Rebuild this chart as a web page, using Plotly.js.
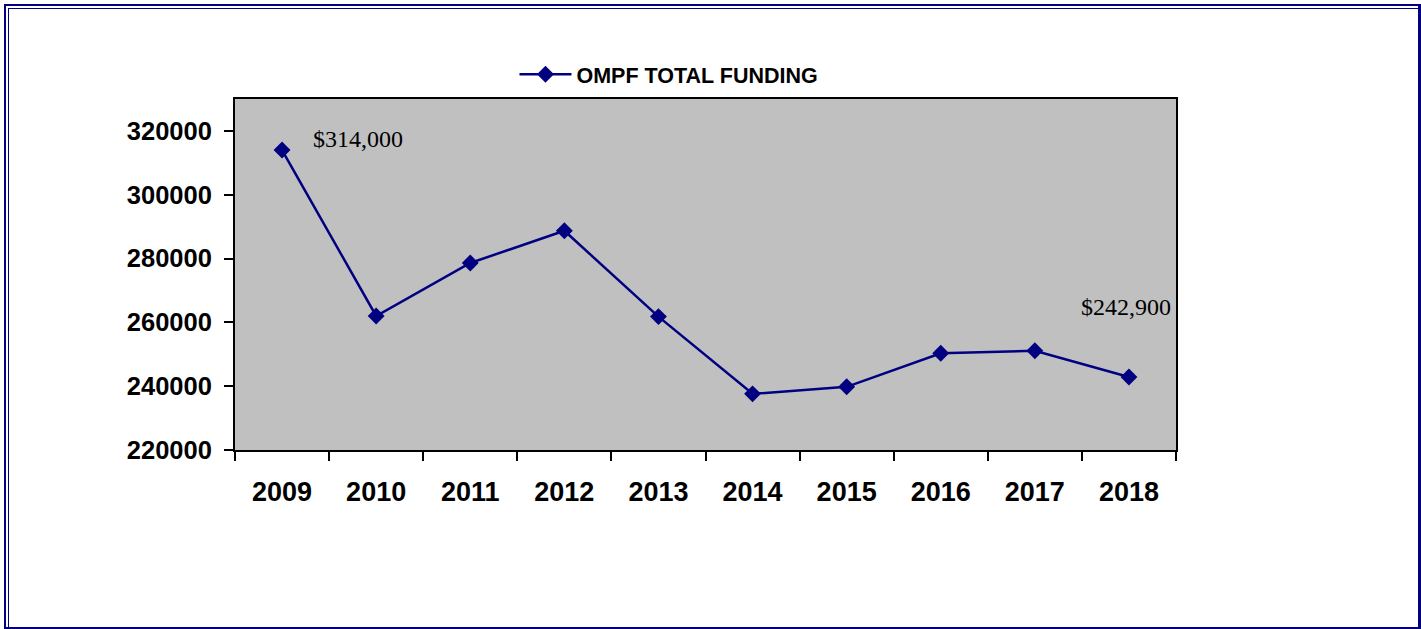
<!DOCTYPE html>
<html>
<head>
<meta charset="utf-8">
<script src="https://cdn.plot.ly/plotly-3.0.1.min.js"></script>
<style>
  html, body { margin: 0; padding: 0; background: #ffffff; }
  #wrap { position: relative; width: 1421px; height: 629px; overflow: hidden; }
  #chart { position: absolute; left: 0; top: 0; width: 1421px; height: 629px; }
  .b { position: absolute; background: #000080; pointer-events: none; }
</style>
</head>
<body>
<div id="wrap">
  <div id="chart"></div>
  <div class="b" style="left:4px;top:4px;width:1417px;height:2px;"></div>
  <div class="b" style="left:4px;top:4px;width:2px;height:625px;"></div>
  <div class="b" style="left:1418px;top:4px;width:3px;height:625px;"></div>
  <div class="b" style="left:4px;top:627px;width:1417px;height:2px;"></div>
  <div class="b" style="left:8px;top:8px;width:1410px;height:1px;"></div>
  <div class="b" style="left:8px;top:8px;width:1px;height:621px;"></div>
</div>
<script>
const years = ['2009','2010','2011','2012','2013','2014','2015','2016','2017','2018'];
const funding = [314000, 262000, 278600, 288700, 261800, 237600, 239800, 250300, 251100, 242900];
const seriesName = 'OMPF TOTAL FUNDING';
const labelIndex = [0, 9];
const labelTexts = ['&#36;314,000', '&#36;242,900'];
const yTicks = [220000, 240000, 260000, 280000, 300000, 320000];

const trace = {
  x: years,
  y: funding,
  type: 'scatter',
  mode: 'lines+markers',
  name: seriesName,
  line: { color: '#000080', width: 2.5 },
  marker: { symbol: 'diamond', size: 13, color: '#000080' },
  showlegend: true
};

const serif = 'Liberation Serif, Times New Roman, serif';
const annotations = [
  { x: labelIndex[0], y: funding[labelIndex[0]], text: labelTexts[0], xref: 'x', yref: 'y',
    showarrow: false, xshift: 76, yshift: 11,
    font: { family: serif, size: 24, color: '#000000' } },
  { x: labelIndex[1], y: funding[labelIndex[1]], text: labelTexts[1], xref: 'x', yref: 'y',
    showarrow: false, xshift: -3, yshift: 70,
    font: { family: serif, size: 24, color: '#000000' } }
];

const layout = {
  width: 1421, height: 629,
  margin: { l: 235, r: 245, t: 99, b: 179, pad: 0 },
  paper_bgcolor: '#ffffff',
  plot_bgcolor: '#C0C0C0',
  font: { family: 'Liberation Sans, Arial, sans-serif', color: '#000000' },
  showlegend: true,
  legend: {
    orientation: 'h', x: 0.297, xanchor: 'left', y: 1.012, yanchor: 'bottom',
    yref: 'paper', itemwidth: 52,
    font: { family: 'Liberation Sans, Arial, sans-serif', size: 21.5, color: '#000000', weight: 'bold' },
    bgcolor: 'rgba(0,0,0,0)', borderwidth: 0
  },
  xaxis: {
    type: 'category',
    range: [-0.5, 9.5],
    tickson: 'boundaries',
    ticks: 'outside', ticklen: 9, tickwidth: 2, tickcolor: '#000000',
    showline: true, linecolor: '#000000', linewidth: 2, mirror: true,
    showgrid: false, zeroline: false,
    ticklabelstandoff: 17,
    tickfont: { family: 'Liberation Sans, Arial, sans-serif', size: 27, color: '#000000', weight: 'bold' },
    fixedrange: true
  },
  yaxis: {
    range: [220000, 330000],
    tickvals: yTicks,
    ticktext: yTicks.map(String),
    ticks: 'outside', ticklen: 9, tickwidth: 2, tickcolor: '#000000',
    showline: true, linecolor: '#000000', linewidth: 2, mirror: true,
    showgrid: false, zeroline: false,
    ticklabelstandoff: 7,
    tickfont: { family: 'Liberation Sans, Arial, sans-serif', size: 25.5, color: '#000000', weight: 'bold' },
    fixedrange: true
  },
  annotations: annotations
};

Plotly.newPlot('chart', [trace], layout, { displayModeBar: false, staticPlot: true });
</script>
</body>
</html>
